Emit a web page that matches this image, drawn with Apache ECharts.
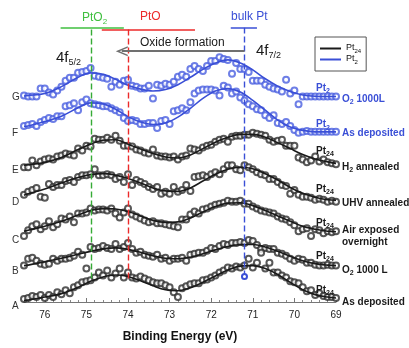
<!DOCTYPE html>
<html><head><meta charset="utf-8">
<script src="https://cdn.jsdelivr.net/npm/echarts@6/dist/echarts.min.js"></script>
<style>html,body{margin:0;padding:0;background:#fff}#c{width:409px;height:348px}</style>
</head><body><div id="c"></div>
<script>
// ---------- data (binding energy in eV, intensity in arbitrary offset units) ----------
const dataE = [76.5,76.4,76.3,76.2,76.1,76.0,75.9,75.8,75.7,75.6,
  75.5,75.4,75.3,75.2,75.1,75.0,74.9,74.8,74.7,74.6,
  74.5,74.4,74.3,74.2,74.1,74.0,73.9,73.8,73.7,73.6,
  73.5,73.4,73.3,73.2,73.1,73.0,72.9,72.8,72.7,72.6,
  72.5,72.4,72.3,72.2,72.1,72.0,71.9,71.8,71.7,71.6,
  71.5,71.4,71.3,71.2,71.1,71.0,70.9,70.8,70.7,70.6,
  70.5,70.4,70.3,70.2,70.1,70.0,69.9,69.8,69.7,69.6,
  69.5,69.4,69.3,69.2,69.1,69.0];

const ptsG = [20.9,20.8,20.8,20.8,21.6,21.6,21.2,21.0,21.4,21.8,
  22.4,22.7,22.7,23.2,23.3,23.4,23.7,22.9,22.8,22.7,
  22.6,21.8,22.3,22.0,22.4,22.5,21.9,21.8,21.6,21.6,
  21.9,20.6,22.0,21.9,22.1,22.0,22.3,22.8,23.0,22.8,
  23.6,23.9,23.6,23.4,23.9,24.4,24.4,24.8,24.6,24.5,
  23.1,24.2,23.6,23.6,23.3,22.4,22.4,22.4,22.0,21.8,
  21.6,21.5,21.3,22.5,21.1,21.4,20.0,20.8,20.8,20.8,
  20.8,20.8,20.8,20.8,20.8,20.8];
const ptsF = [17.8,17.9,18.0,17.8,18.2,18.4,18.6,18.5,18.8,18.8,
  19.8,19.9,20.1,19.4,20.2,20.5,20.1,20.0,19.9,19.8,
  19.8,19.6,19.4,19.2,18.6,18.3,18.4,18.3,18.0,18.0,
  18.1,18.1,17.6,18.3,18.4,18.0,19.3,19.4,19.6,19.4,
  20.2,21.1,21.4,21.5,21.5,21.5,21.4,20.9,21.9,21.7,
  21.1,21.3,20.7,20.4,20.0,19.8,19.5,19.4,18.9,18.6,
  18.9,18.1,18.0,18.2,17.8,17.4,17.1,17.2,17.3,17.2,
  17.2,17.2,17.2,17.2,17.2,17.2];
const ptsE = [13.6,13.6,14.3,13.8,14.2,14.4,14.5,14.4,14.7,14.8,
  15.0,14.9,14.8,15.5,15.3,15.8,15.7,16.5,16.4,16.4,
  16.6,16.4,16.8,16.3,15.8,15.8,15.7,15.4,15.3,15.1,
  15.0,15.4,14.8,14.7,14.7,14.6,14.7,14.4,14.7,14.8,
  15.5,15.4,15.3,15.6,15.8,15.9,16.2,16.4,16.5,16.2,
  16.7,16.8,16.8,16.9,16.9,17.1,17.0,16.9,16.8,16.4,
  16.2,16.3,16.4,15.8,15.8,15.8,14.6,14.4,14.1,14.3,
  14.7,14.2,14.4,14.1,14.0,13.9];
const ptsD = [10.8,11.1,11.3,11.5,10.6,10.5,11.9,11.6,11.8,11.8,
  12.2,12.3,12.1,12.6,12.8,12.8,12.9,13.4,12.8,12.8,
  12.9,12.8,12.4,12.6,12.1,12.9,11.8,12.3,12.1,11.9,
  11.6,11.4,11.6,10.9,11.1,10.9,11.6,11.1,11.3,11.8,
  11.2,12.6,12.7,12.8,12.6,12.9,13.1,12.9,13.4,13.8,
  13.8,13.4,13.3,13.8,13.6,13.4,13.1,12.9,12.8,12.4,
  12.4,12.1,11.8,11.7,10.9,11.3,10.8,10.6,10.6,10.5,
  10.3,10.4,10.3,10.1,10.2,10.1];
const ptsC = [6.6,7.2,7.6,7.8,7.3,7.6,8.1,7.5,7.8,8.4,
  8.3,8.6,8.0,8.9,8.9,9.0,9.4,9.2,9.3,9.3,
  9.2,9.4,8.9,8.5,9.0,9.4,8.8,8.6,8.4,8.2,
  8.0,8.1,7.9,7.9,7.8,7.7,7.6,7.5,8.3,8.3,
  8.8,9.1,8.9,9.3,9.4,9.6,9.8,9.9,10.0,10.2,
  10.1,10.1,10.2,9.9,9.9,9.6,9.4,9.2,9.1,9.0,
  8.9,8.6,8.4,8.3,8.0,7.7,7.1,7.3,7.4,6.6,
  7.3,7.2,6.9,7.1,7.0,7.1];
const ptsB = [3.6,4.3,4.4,4.1,3.8,3.7,3.8,4.3,4.1,4.3,
  4.3,4.4,4.6,5.0,4.7,3.3,5.5,5.3,5.4,5.6,
  5.4,5.3,5.8,5.3,5.5,5.9,5.3,4.9,5.0,4.7,
  4.6,4.5,4.7,4.3,4.4,4.1,4.3,4.3,4.4,4.1,
  4.7,4.8,4.9,4.9,5.1,5.4,5.3,5.6,5.8,5.7,
  5.9,5.9,6.0,5.9,6.2,6.1,5.7,5.3,5.4,5.3,
  5.3,4.9,4.8,4.6,4.3,4.1,4.3,4.2,3.9,3.9,
  3.7,3.6,3.6,3.7,3.6,3.6];
const ptsA = [0.2,0.3,0.5,0.4,0.6,0.3,0.6,0.4,0.9,0.7,
  1.1,0.8,1.4,1.6,1.9,2.0,2.1,2.4,2.9,2.6,
  3.1,2.4,2.8,3.3,2.4,2.9,2.4,2.3,2.5,2.3,
  2.1,1.9,1.8,1.8,1.6,1.4,0.9,0.4,1.3,1.5,
  1.7,1.8,1.8,2.1,2.2,2.4,2.6,2.9,3.1,3.4,
  3.3,3.5,3.4,3.6,4.3,3.4,3.9,4.9,3.3,3.9,
  2.9,2.9,2.6,2.4,2.0,1.9,1.8,1.4,1.0,1.1,
  0.6,0.8,0.5,0.4,0.4,0.3];

const fitE = [76.5,76.4,76.0,75.6,75.2,74.9,74.6,74.3,74.0,73.7,73.4,73.1,72.8,
  72.5,72.2,71.9,71.6,71.3,71.0,70.7,70.4,70.1,69.8,69.5,69.2,69.0];
const fitG = [20.85,20.9,21.1,21.8,22.75,23.2,23.05,22.55,21.93,21.55,21.35,21.5,22.0,
  22.75,23.55,24.2,24.52,24.2,23.5,22.6,21.85,21.3,20.95,20.82,20.8,20.8];
const fitF = [17.75,17.8,18.25,18.8,19.65,20.15,20.05,19.5,18.75,18.2,17.95,18.1,18.7,
  19.6,20.6,21.35,21.6,21.25,20.4,19.4,18.4,17.7,17.35,17.2,17.2,17.2];
const fitEa = [13.8,13.85,14.1,14.6,15.4,15.95,16.35,16.4,15.95,15.45,15.0,14.65,14.55,
  14.85,15.5,16.15,16.65,16.95,16.95,16.65,16.1,15.5,14.9,14.45,14.15,14.0];
const fitD = [10.75,10.9,11.4,12.0,12.55,12.85,12.95,12.8,12.45,12.0,11.5,11.2,11.15,
  11.5,12.2,12.9,13.4,13.6,13.45,12.95,12.3,11.55,10.95,10.55,10.3,10.25];
const fitC = [7.1,7.2,7.6,8.1,8.75,9.2,9.4,9.35,9.1,8.65,8.2,8.0,8.05,
  8.45,9.05,9.6,9.95,10.0,9.7,9.2,8.65,8.1,7.6,7.3,7.1,7.05];
const fitB = [3.6,3.65,4.0,4.35,4.75,5.05,5.3,5.4,5.25,4.95,4.6,4.35,4.3,
  4.45,4.8,5.2,5.55,5.75,5.75,5.5,5.05,4.55,4.1,3.8,3.65,3.6];
const fitA = [0.05,0.1,0.4,0.75,1.4,2.0,2.45,2.65,2.5,2.05,1.55,1.15,1.05,
  1.35,1.9,2.55,3.15,3.55,3.6,3.3,2.7,1.9,1.15,0.65,0.4,0.3];

// reference binding energies (eV)
const ePtO2 = 74.88, ePtO = 74.0, eBulk = 71.2;
const rangePtO2 = [75.62, 74.10], rangePtO = [74.63, 72.39], rangeBulk = [71.53, 70.90];
const oxideArrow = [71.2, 74.15];

const traceKeys = ['G','F','E','D','C','B','A'];
const sampleOf = ['Pt2','Pt2','Pt24','Pt24','Pt24','Pt24','Pt24'];
const ptsList = [ptsG, ptsF, ptsE, ptsD, ptsC, ptsB, ptsA];
const fitList = [fitG, fitF, fitEa, fitD, fitC, fitB, fitA];

// ---------- styling ----------
const FONT = "'Liberation Sans', Arial, sans-serif";
const BLACK = '#1a1a1a', BLUE = '#3a4fd6', GREEN = '#36ab36', GREEN_T = '#3fbf3f',
      RED = '#ec2a2a', GRAY = '#707070';

const pair = (xs, ys) => xs.map((x, i) => [x, ys[i]]);
const series = [];
traceKeys.forEach((k, i) => {
  const isBlue = sampleOf[i] === 'Pt2';
  const col = isBlue ? BLUE : BLACK;
  const dotCol = isBlue ? '#4a5fe0' : '#2e2e2e';
  series.push({
    type: 'scatter', name: 'data' + k, data: pair(dataE, ptsList[i]),
    symbol: 'emptyCircle', symbolSize: 6, clip: false, silent: true, z: 2,
    itemStyle: { color: dotCol, borderColor: dotCol, borderWidth: 0.85 }
  });
  series.push({
    type: 'line', name: sampleOf[i], data: pair(fitE, fitList[i]), smooth: 0.35,
    showSymbol: false, silent: true, z: 3, clip: false,
    lineStyle: { color: col, width: 1.6 }, itemStyle: { color: col }
  });
});

const lineTop = 27.8;
const chevron = 'path://M5,0 L10,10 L8.4,10 L5,3.2 L1.6,10 L0,10 Z';
series.push({
  type: 'line', name: 'annot', data: [], silent: true, z: 4,
  markLine: {
    silent: true, animation: false, symbol: ['none', 'none'], label: { show: false },
    emphasis: { disabled: true },
    data: [
      [{ coord: [ePtO2, 2.3], lineStyle: { color: GREEN, type: [6, 3], width: 1.4 } }, { coord: [ePtO2, lineTop] }],
      [{ coord: [ePtO, 2.3], lineStyle: { color: RED, type: [6, 3], width: 1.4 } }, { coord: [ePtO, lineTop] }],
      [{ coord: [eBulk, 2.5], symbol: 'emptyCircle', symbolSize: 5, lineStyle: { color: BLUE, type: [6, 3], width: 1.4 } }, { coord: [eBulk, lineTop] }],
      [{ coord: [rangePtO2[0], 27.83], lineStyle: { color: GREEN_T, type: 'solid', width: 1.5 } }, { coord: [rangePtO2[1], 27.83] }],
      [{ coord: [rangePtO[0], 27.57], lineStyle: { color: RED, type: 'solid', width: 1.5 } }, { coord: [rangePtO[1], 27.57] }],
      [{ coord: [rangeBulk[0], 27.77], lineStyle: { color: BLUE, type: 'solid', width: 1.5 } }, { coord: [rangeBulk[1], 27.77] }],
      [{ coord: [oxideArrow[0], 25.4], lineStyle: { color: GRAY, type: 'solid', width: 2 } },
       { coord: [oxideArrow[1], 25.4], symbol: chevron, symbolSize: [10, 12] }]
    ]
  }
});

// ---------- text annotations ----------
const rLab = (c) => ({
  m: { fill: c, fontFamily: FONT, fontSize: 10, fontWeight: 'bold', lineHeight: 12, verticalAlign: 'top' },
  s: { fill: c, fontFamily: FONT, fontSize: 7, fontWeight: 'bold', lineHeight: 8, padding: [5.5, 0, 0, 0], verticalAlign: 'bottom' }
});
const rTop = (c) => ({
  m: { fill: c, fontFamily: FONT, fontSize: 12, lineHeight: 14, verticalAlign: 'top' },
  s: { fill: c, fontFamily: FONT, fontSize: 8, lineHeight: 9, padding: [6.3, 0, 0, 0], verticalAlign: 'bottom' }
});
const r4f = {
  m: { fill: BLACK, fontFamily: FONT, fontSize: 15, lineHeight: 17, verticalAlign: 'top' },
  s: { fill: BLACK, fontFamily: FONT, fontSize: 9, lineHeight: 10, padding: [8.6, 0, 0, 0], verticalAlign: 'bottom' }
};
const T = (x, y, text, rich) => ({ type: 'text', x, y, silent: true, z: 10,
  style: { text, rich, align: 'left', verticalAlign: 'top' } });

const labels = [
  ['{m|Pt}{s|2}', BLUE, 316, 83], ['{m|O}{s|2}{m| 1000L}', BLUE, 342, 94],
  ['{m|Pt}{s|2}', BLUE, 316, 119.4], ['{m|As deposited}', BLUE, 342, 128.7],
  ['{m|Pt}{s|24}', BLACK, 316, 146], ['{m|H}{s|2}{m| annealed}', BLACK, 342, 162],
  ['{m|Pt}{s|24}', BLACK, 316, 184], ['{m|UHV annealed}', BLACK, 342, 198.7],
  ['{m|Pt}{s|24}', BLACK, 316, 218], ['{m|Air exposed}', BLACK, 342, 225], ['{m|overnight}', BLACK, 342, 237],
  ['{m|Pt}{s|24}', BLACK, 316, 251], ['{m|O}{s|2}{m| 1000 L}', BLACK, 342, 265],
  ['{m|Pt}{s|24}', BLACK, 316, 285], ['{m|As deposited}', BLACK, 342, 297]
];
const graphic = labels.map(l => T(l[2], l[3], l[0], rLab(l[1])));
graphic.push(T(82, 11.4, '{m|PtO}{s|2}', rTop(GREEN_T)));
graphic.push(T(140, 11, '{m|PtO}', rTop(RED)));
graphic.push(T(231, 11, '{m|bulk Pt}', rTop(BLUE)));
graphic.push(T(140, 37, '{m|Oxide formation}', rTop(BLACK)));
graphic.push(T(56, 50.5, '{m|4f}{s|5/2}', r4f));
graphic.push(T(256, 43, '{m|4f}{s|7/2}', r4f));
const sideLetters = ['G','F','E','D','C','B','A'];
const sideY = [97.7, 133, 170.7, 202, 240, 271.7, 306];
sideLetters.forEach((s, i) => graphic.push({ type: 'text', x: 12, y: sideY[i], silent: true, z: 10,
  style: { text: s, fill: '#333', fontFamily: FONT, fontSize: 10, align: 'left', verticalAlign: 'middle' } }));

const chart = echarts.init(document.getElementById('c'));
chart.setOption({
  animation: false,
  backgroundColor: '#fff',
  grid: { left: 24, right: 73, top: 6, bottom: 41 },
  xAxis: {
    type: 'value', min: 69, max: 76.5, interval: 1, inverse: true,
    name: 'Binding Energy (eV)', nameLocation: 'middle', nameGap: 29,
    nameTextStyle: { fontFamily: FONT, fontSize: 12, fontWeight: 'bold', color: '#111' },
    axisLine: { onZero: false, lineStyle: { color: '#777', width: 1 } },
    axisTick: { inside: true, length: 4, lineStyle: { color: '#777' } },
    minorTick: { show: true, splitNumber: 5, length: 2, lineStyle: { color: '#888' } },
    splitLine: { show: false },
    axisLabel: { margin: 8, fontFamily: FONT, fontSize: 10, color: '#222',
      formatter: v => (Number.isInteger(v) ? String(v) : '') }
  },
  yAxis: { type: 'value', min: -0.1, max: 30, show: false, splitLine: { show: false } },
  legend: {
    data: ['Pt24', 'Pt2'], orient: 'vertical', left: 315, top: 37, padding: [6, 5, 6, 5],
    itemGap: 0, itemWidth: 21, itemHeight: 2, icon: 'rect', selectedMode: false,
    borderColor: '#555', borderWidth: 1, backgroundColor: '#fff',
    formatter: n => (n === 'Pt24' ? '{m|Pt}{s|24}' : '{m|Pt}{s|2}'),
    textStyle: { fontFamily: FONT, fontSize: 9, color: '#111',
      rich: { m: { fontSize: 9, lineHeight: 11, verticalAlign: 'top', color: '#111' },
              s: { fontSize: 6, lineHeight: 7, padding: [5, 0, 0, 0], verticalAlign: 'bottom', color: '#111' } } }
  },
  series,
  graphic
});
</script></body></html>
